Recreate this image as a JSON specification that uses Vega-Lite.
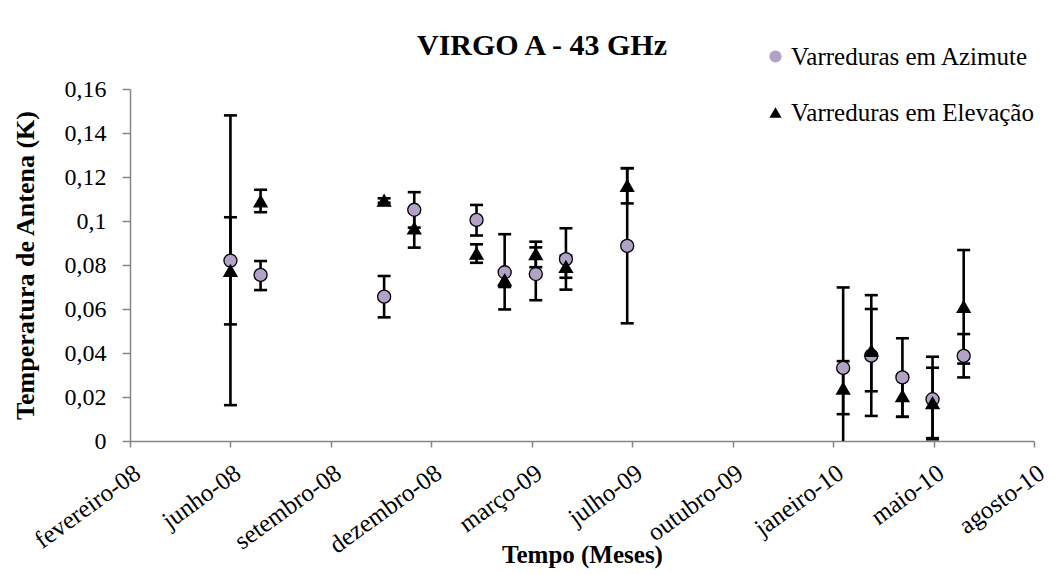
{
  "$schema": "https://vega.github.io/schema/vega-lite/v6.json",
  "width": 904,
  "height": 352,
  "autosize": {"type": "none"},
  "padding": {"left": 130, "top": 89, "right": 29, "bottom": 133},
  "background": "white",
  "config": {
    "view": {"stroke": null},
    "font": "Liberation Serif",
    "axis": {"labelFont": "Liberation Serif", "titleFont": "Liberation Serif"},
    "legend": {"labelFont": "Liberation Serif"}
  },
  "title": {
    "text": "VIRGO A - 43 GHz",
    "font": "Liberation Serif",
    "fontSize": 30,
    "fontWeight": "bold",
    "color": "black",
    "anchor": "middle",
    "frame": "group",
    "dx": -40,
    "baseline": "alphabetic",
    "offset": -41
  },
  "data": {
    "values": [
      {"series": "Varreduras em Azimute", "date": "2008-06-01", "value": 0.082, "lo": 0.0163, "hi": 0.148},
      {"series": "Varreduras em Azimute", "date": "2008-07-01", "value": 0.0755, "lo": 0.0686, "hi": 0.0818},
      {"series": "Varreduras em Azimute", "date": "2008-11-01", "value": 0.0656, "lo": 0.0562, "hi": 0.075},
      {"series": "Varreduras em Azimute", "date": "2008-12-01", "value": 0.1051, "lo": 0.097, "hi": 0.1131},
      {"series": "Varreduras em Azimute", "date": "2009-02-01", "value": 0.1005, "lo": 0.0934, "hi": 0.1073},
      {"series": "Varreduras em Azimute", "date": "2009-03-01", "value": 0.0767, "lo": 0.0598, "hi": 0.094},
      {"series": "Varreduras em Azimute", "date": "2009-04-01", "value": 0.0759, "lo": 0.064, "hi": 0.088},
      {"series": "Varreduras em Azimute", "date": "2009-05-01", "value": 0.0827, "lo": 0.0688, "hi": 0.0967},
      {"series": "Varreduras em Azimute", "date": "2009-07-01", "value": 0.0887, "lo": 0.0535, "hi": 0.124},
      {"series": "Varreduras em Azimute", "date": "2010-02-01", "value": 0.0332, "lo": -0.0035, "hi": 0.0698},
      {"series": "Varreduras em Azimute", "date": "2010-03-01", "value": 0.0388, "lo": 0.0114, "hi": 0.0663},
      {"series": "Varreduras em Azimute", "date": "2010-04-01", "value": 0.0289, "lo": 0.011, "hi": 0.0467},
      {"series": "Varreduras em Azimute", "date": "2010-05-01", "value": 0.019, "lo": 0.0008, "hi": 0.0383},
      {"series": "Varreduras em Azimute", "date": "2010-06-01", "value": 0.0387, "lo": 0.0289, "hi": 0.0486},
      {"series": "Varreduras em Elevação", "date": "2008-06-01", "value": 0.0774, "lo": 0.053, "hi": 0.1017},
      {"series": "Varreduras em Elevação", "date": "2008-07-01", "value": 0.109, "lo": 0.104, "hi": 0.1142},
      {"series": "Varreduras em Elevação", "date": "2008-11-01", "value": 0.1093, "lo": 0.1083, "hi": 0.1103},
      {"series": "Varreduras em Elevação", "date": "2008-12-01", "value": 0.0967, "lo": 0.0879, "hi": 0.1055},
      {"series": "Varreduras em Elevação", "date": "2009-02-01", "value": 0.0852, "lo": 0.081, "hi": 0.0894},
      {"series": "Varreduras em Elevação", "date": "2009-03-01", "value": 0.0732, "lo": 0.07, "hi": 0.0764},
      {"series": "Varreduras em Elevação", "date": "2009-04-01", "value": 0.085, "lo": 0.079, "hi": 0.0906},
      {"series": "Varreduras em Elevação", "date": "2009-05-01", "value": 0.0792, "lo": 0.0742, "hi": 0.0842},
      {"series": "Varreduras em Elevação", "date": "2009-07-01", "value": 0.116, "lo": 0.108, "hi": 0.124},
      {"series": "Varreduras em Elevação", "date": "2010-02-01", "value": 0.0239, "lo": 0.0122, "hi": 0.0363},
      {"series": "Varreduras em Elevação", "date": "2010-03-01", "value": 0.041, "lo": 0.0226, "hi": 0.06},
      {"series": "Varreduras em Elevação", "date": "2010-04-01", "value": 0.0205, "lo": 0.011, "hi": 0.03},
      {"series": "Varreduras em Elevação", "date": "2010-05-01", "value": 0.0173, "lo": 0.0013, "hi": 0.0333},
      {"series": "Varreduras em Elevação", "date": "2010-06-01", "value": 0.061, "lo": 0.0352, "hi": 0.0868}
    ]
  },
  "encoding": {
    "x": {
      "field": "date",
      "type": "temporal",
      "scale": {
        "type": "utc",
        "domain": [
          {"year": 2008, "month": 2, "date": 22, "utc": true},
          {"year": 2010, "month": 8, "date": 10, "utc": true}
        ]
      },
      "axis": {
        "title": "Tempo (Meses)",
        "values": [
          {"year": 2008, "month": 2, "date": 22, "utc": true},
          {"year": 2008, "month": 6, "date": 1, "utc": true},
          {"year": 2008, "month": 9, "date": 9, "utc": true},
          {"year": 2008, "month": 12, "date": 18, "utc": true},
          {"year": 2009, "month": 3, "date": 28, "utc": true},
          {"year": 2009, "month": 7, "date": 6, "utc": true},
          {"year": 2009, "month": 10, "date": 14, "utc": true},
          {"year": 2010, "month": 1, "date": 22, "utc": true},
          {"year": 2010, "month": 5, "date": 2, "utc": true},
          {"year": 2010, "month": 8, "date": 10, "utc": true}
        ],
        "labelExpr": "['janeiro','fevereiro','março','abril','maio','junho','julho','agosto','setembro','outubro','novembro','dezembro'][utcmonth(datum.value)] + '-' + utcFormat(datum.value, '%y')",
        "labelAngle": -36,
        "labelAlign": "right",
        "labelBaseline": "top",
        "labelPadding": 13,
        "labelOverlap": false,
        "labelFlush": false,
        "labelBound": false,
        "labelFont": "Liberation Serif",
        "labelFontSize": 25,
        "labelColor": "black",
        "grid": false,
        "tickSize": 6,
        "tickColor": "#868686",
        "tickWidth": 1.5,
        "domainColor": "#868686",
        "domainWidth": 1.5,
        "titleFont": "Liberation Serif",
        "titleFontSize": 25,
        "titleFontWeight": "bold",
        "titleColor": "black",
        "titleX": 452,
        "titleY": 121,
        "titleAlign": "center",
        "titleBaseline": "alphabetic"
      }
    }
  },
  "layer": [
    {
      "mark": {"type": "rule", "color": "black", "strokeWidth": 2.6, "clip": true},
      "encoding": {
        "y": {
          "field": "lo",
          "type": "quantitative",
          "title": "Temperatura de Antena (K)",
          "scale": {"domain": [0, 0.16], "nice": false},
          "axis": {
            "values": [0, 0.02, 0.04, 0.06, 0.08, 0.1, 0.12, 0.14, 0.16],
            "labelExpr": "replace(format(datum.value, '.2~f'), '.', ',')",
            "labelFont": "Liberation Serif",
            "labelFontSize": 24,
            "labelColor": "black",
            "labelPadding": 16,
            "grid": false,
            "tickSize": 8,
            "tickColor": "#868686",
            "tickWidth": 1.5,
            "domainColor": "#868686",
            "domainWidth": 1.5,
            "titleFont": "Liberation Serif",
            "titleFontSize": 26,
            "titleFontWeight": "bold",
            "titleColor": "black",
            "titleX": -105,
            "titleY": 176,
            "titleAngle": -90,
            "titleAlign": "center",
            "titleBaseline": "middle"
          }
        },
        "y2": {"field": "hi"}
      }
    },
    {
      "mark": {"type": "tick", "orient": "horizontal", "color": "black", "size": 13, "thickness": 2.6, "clip": true, "opacity": 1},
      "encoding": {
        "y": {"field": "lo", "type": "quantitative", "title": "Temperatura de Antena (K)"}
      }
    },
    {
      "mark": {"type": "tick", "orient": "horizontal", "color": "black", "size": 13, "thickness": 2.6, "clip": true, "opacity": 1},
      "encoding": {
        "y": {"field": "hi", "type": "quantitative", "title": "Temperatura de Antena (K)"}
      }
    },
    {
      "mark": {"type": "point", "filled": true, "stroke": "black", "strokeWidth": 1.3, "opacity": 1, "size": 170},
      "encoding": {
        "y": {"field": "value", "type": "quantitative", "title": "Temperatura de Antena (K)"},
        "shape": {
          "field": "series",
          "type": "nominal",
          "scale": {"domain": ["Varreduras em Azimute", "Varreduras em Elevação"], "range": ["circle", "triangle-up"]},
          "legend": {
            "title": null,
            "orient": "none",
            "legendX": 633,
            "legendY": -45,
            "direction": "vertical",
            "labelFont": "Liberation Serif",
            "labelFontSize": 25,
            "labelColor": "black",
            "labelLimit": 0,
            "labelOffset": 3,
            "symbolSize": 150,
            "symbolStrokeColor": "black",
            "symbolStrokeWidth": 1.5,
            "rowPadding": 30,
            "encode": {"symbols": {"update": {"stroke": {"value": "black"}, "strokeWidth": {"value": 1.5}, "opacity": {"value": 1}}}}
          }
        },
        "fill": {
          "field": "series",
          "type": "nominal",
          "scale": {"domain": ["Varreduras em Azimute", "Varreduras em Elevação"], "range": ["#B3A2C7", "#000000"]},
          "legend": {
            "title": null,
            "orient": "none",
            "legendX": 633,
            "legendY": -45,
            "direction": "vertical",
            "labelFont": "Liberation Serif",
            "labelFontSize": 25,
            "labelColor": "black",
            "labelLimit": 0,
            "labelOffset": 3,
            "symbolSize": 150,
            "symbolStrokeColor": "black",
            "symbolStrokeWidth": 1.5,
            "rowPadding": 30,
            "encode": {"symbols": {"update": {"stroke": {"value": "black"}, "strokeWidth": {"value": 1.5}, "opacity": {"value": 1}}}}
          }
        }
      }
    }
  ]
}
